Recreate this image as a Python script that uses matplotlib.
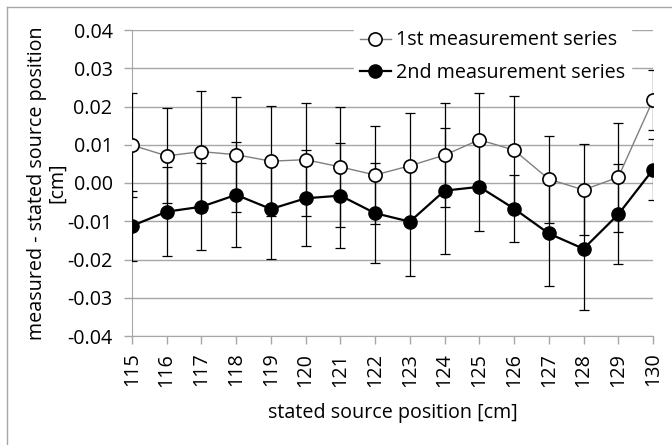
import matplotlib.pyplot as plt
from matplotlib.lines import Line2D

plt.rcParams['font.family'] = ['Open Sans', 'DejaVu Sans']

# posiciones y desviaciones
posiciones = list(range(115, 131))
serie1 = [0.0099, 0.0071, 0.0082, 0.0074, 0.0057, 0.0061, 0.0042, 0.0021,
          0.0045, 0.0073, 0.0113, 0.0086, 0.0010, -0.0018, 0.0015, 0.0217]
error1 = [0.0135, 0.0124, 0.0159, 0.0150, 0.0144, 0.0147, 0.0158, 0.0129,
          0.0138, 0.0135, 0.0123, 0.0142, 0.0114, 0.0119, 0.0142, 0.0078]
serie2 = [-0.0112, -0.0075, -0.0062, -0.0031, -0.0068, -0.0040, -0.0033, -0.0079,
          -0.0101, -0.0020, -0.0010, -0.0067, -0.0132, -0.0172, -0.0082, 0.0035]
error2 = [0.0091, 0.0116, 0.0114, 0.0137, 0.0130, 0.0125, 0.0138, 0.0131,
          0.0142, 0.0165, 0.0116, 0.0088, 0.0138, 0.0159, 0.0131, 0.0080]
yticks = [-0.04, -0.03, -0.02, -0.01, 0.00, 0.01, 0.02, 0.03, 0.04]

fs = 14.2
fig = plt.figure(figsize=(6.72, 4.45), dpi=100)
ax = fig.add_axes([132 / 672, 1 - 336 / 445, (653 - 132) / 672, (336 - 30) / 445])

gris = '#a6a6a6'
ax.set_xlim(115, 130)
ax.set_ylim(-0.04, 0.04)
ax.set_yticks(yticks)
ax.set_yticklabels([f"{v:.2f}" for v in yticks], fontsize=fs)
ax.set_xticks(posiciones)
ax.set_xticklabels([str(p) for p in posiciones], rotation=90, fontsize=fs)
ax.grid(True, axis='y', color=gris, linewidth=1)
ax.set_axisbelow(True)
for lado in ['top', 'right']:
    ax.spines[lado].set_visible(False)
ax.spines['left'].set_color(gris)
ax.spines['bottom'].set_color(gris)
ax.tick_params(axis='both', direction='out', length=6, color=gris, width=1)
ax.tick_params(axis='x', pad=6)
ax.tick_params(axis='y', pad=8)

# barras de error
ax.errorbar(posiciones, serie1, yerr=error1, fmt='none', ecolor='black',
            elinewidth=0.9, capsize=3.5, capthick=0.9, zorder=3)
ax.errorbar(posiciones, serie2, yerr=error2, fmt='none', ecolor='black',
            elinewidth=0.9, capsize=3.5, capthick=0.9, zorder=3)

# series
ax.plot(posiciones, serie1, color='#7f7f7f', linewidth=1, marker='o',
        markersize=9.5, markerfacecolor='white', markeredgecolor='black',
        markeredgewidth=1.2, zorder=4)
ax.plot(posiciones, serie2, color='black', linewidth=1.6, marker='o',
        markersize=9.5, markerfacecolor='black', markeredgecolor='black', zorder=5)

h1 = Line2D([], [], color='#7f7f7f', linewidth=1, marker='o', markersize=9.5,
            markerfacecolor='white', markeredgecolor='black', markeredgewidth=1.2)
h2 = Line2D([], [], color='black', linewidth=1.6, marker='o', markersize=9.5,
            markerfacecolor='black')
leg = ax.legend([h1, h2], ['1st measurement series', '2nd measurement series'],
                loc='upper right', bbox_to_anchor=(0.977, 1.05), fontsize=fs,
                frameon=True, fancybox=False, edgecolor='white', framealpha=1,
                handlelength=1.6, handletextpad=0.25, labelspacing=0.65,
                borderpad=0.3)
leg.set_zorder(6)

ax.set_xlabel('stated source position [cm]', fontsize=fs, labelpad=12)
ax.set_ylabel('measured - stated source position\n[cm]', fontsize=fs,
              linespacing=1.05)
ax.yaxis.set_label_coords(-0.124, 0.5)

# borde del área del gráfico
fig.add_artist(Line2D([7 / 672, 7 / 672], [0, 1 - 7 / 445], color=gris, linewidth=1))
fig.add_artist(Line2D([7 / 672, 1], [1 - 7 / 445, 1 - 7 / 445], color=gris, linewidth=1))

fig.savefig('out.png', dpi=100)
